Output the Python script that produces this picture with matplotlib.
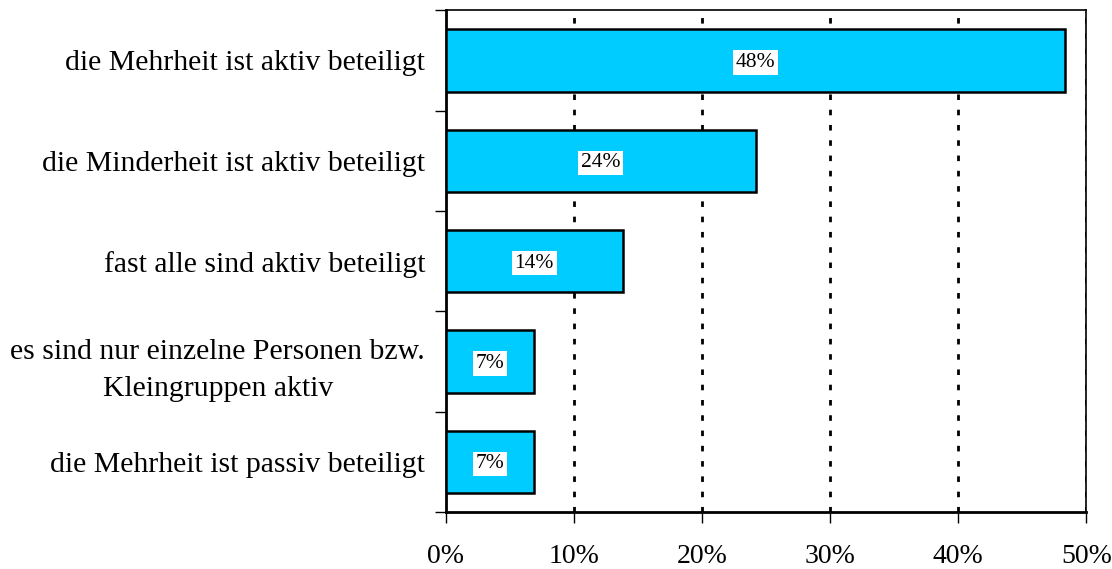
import matplotlib
matplotlib.use('Agg')
import matplotlib.pyplot as plt
import numpy as np

categories = ['die Mehrheit ist aktiv beteiligt',
              'die Minderheit ist aktiv beteiligt',
              'fast alle sind aktiv beteiligt',
              'es sind nur einzelne Personen bzw.\nKleingruppen aktiv',
              'die Mehrheit ist passiv beteiligt']
values = [48.3, 24.2, 13.8, 6.9, 6.9]
labels = ['48%', '24%', '14%', '7%', '7%']
xticks = [0, 10, 20, 30, 40, 50]

plt.rcParams['font.family'] = ['Liberation Serif', 'DejaVu Serif']

fig = plt.figure(figsize=(11.12, 5.69), dpi=100)
ax = fig.add_axes([0.401, 0.100, 0.576, 0.882])

y = np.arange(len(categories))
ax.barh(y, values, height=0.62, color='#00CCFF', edgecolor='black', linewidth=1.8, zorder=3)

for yi, v, lab in zip(y, values, labels):
    ax.text(v / 2, yi + 0.02, lab, ha='center', va='center', fontsize=15.5,
            bbox=dict(facecolor='white', edgecolor='none', pad=2), zorder=4)

for g in [10, 20, 30, 40, 50]:
    ax.axvline(g, color='black', linestyle=(0, (2, 3.5)), linewidth=2, zorder=2)

ax.set_xlim(0, 50)
ax.set_ylim(len(categories) - 0.5, -0.5)
ax.set_xticks(xticks)
ax.set_xticklabels([f'{t}%' for t in xticks], fontsize=20)
ax.tick_params(axis='x', length=8, width=1, pad=15)

ax.set_yticks(y)
ax.set_yticklabels(categories, fontsize=21.4, multialignment='center', linespacing=1.55)
ax.tick_params(axis='y', which='major', length=0, pad=15)
ax.set_yticks(np.arange(-0.5, len(categories)), minor=True)
ax.tick_params(axis='y', which='minor', length=8, width=1)

for s in ['top', 'right']:
    ax.spines[s].set_linewidth(1.2)
ax.spines['left'].set_linewidth(2)
ax.spines['bottom'].set_linewidth(2)

fig.savefig('out.png', dpi=100)
